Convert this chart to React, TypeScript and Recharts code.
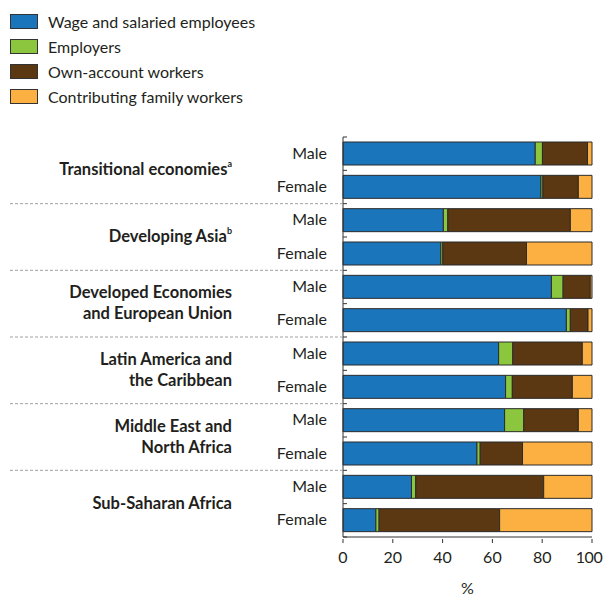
import React from 'react';
import { BarChart, Bar, XAxis, YAxis, Legend } from 'recharts';

const regions = [
  'Transitional economies',
  'Developing Asia',
  'Developed Economies and European Union',
  'Latin America and the Caribbean',
  'Middle East and North Africa',
  'Sub-Saharan Africa',
];
const regionLines: string[][] = [
  ['Transitional economies'],
  ['Developing Asia'],
  ['Developed Economies', 'and European Union'],
  ['Latin America and', 'the Caribbean'],
  ['Middle East and', 'North Africa'],
  ['Sub-Saharan Africa'],
];
const regionNotes = ['a', 'b', '', '', '', ''];
const sexes = ['Male', 'Female'];

// one value per row: region x sex, in order Male, Female
const wage = [77.2, 79.5, 40.3, 39.3, 83.7, 89.7, 62.5, 65.3, 64.9, 53.8, 27.5, 13.2];
const employers = [2.9, 0.8, 1.8, 0.8, 4.7, 1.6, 5.7, 2.7, 7.7, 1.3, 1.7, 1.3];
const ownAccount = [18.1, 14.2, 49.2, 33.6, 10.9, 7.1, 27.9, 24.1, 21.9, 17.0, 51.4, 48.4];
const family = [1.8, 5.5, 8.7, 26.3, 0.7, 1.6, 3.9, 7.9, 5.5, 27.9, 19.4, 37.1];

const xTicks = [0, 20, 40, 60, 80, 100];

const series = [
  { key: 'wage', name: 'Wage and salaried employees', color: '#1b75bb' },
  { key: 'employers', name: 'Employers', color: '#8cc63e' },
  { key: 'ownAccount', name: 'Own-account workers', color: '#5b3712' },
  { key: 'family', name: 'Contributing family workers', color: '#fbb041' },
];

const data = wage.map((w, i) => ({
  row: `${regions[Math.floor(i / 2)]}|${sexes[i % 2]}`,
  wage: w,
  employers: employers[i],
  ownAccount: ownAccount[i],
  family: family[i],
}));

const FONT = 'Lato, "Open Sans", sans-serif';
const TEXT = '#231f20';
const BAND = 400 / data.length;

const YTick = (props: any) => {
  const { x, y, index } = props;
  const g = Math.floor(index / 2);
  const isMale = index % 2 === 0;
  const lines = regionLines[g];
  const cy = y + BAND / 2;
  return (
    <g>
      <text x={x} y={y} dy={5} textAnchor="end" fontSize={16} fill={TEXT} fontFamily={FONT}>
        {sexes[index % 2]}
      </text>
      <line x1={x + 16} x2={x + 20} y1={y - BAND / 2} y2={y - BAND / 2} stroke="#333" />
      {index === data.length - 1 && (
        <line x1={x + 16} x2={x + 20} y1={y + BAND / 2} y2={y + BAND / 2} stroke="#333" />
      )}
      {isMale &&
        lines.map((ln, k) => (
          <text
            key={k}
            x={x - 95}
            y={cy + (k - (lines.length - 1) / 2) * 21}
            dy={5}
            textAnchor="end"
            fontSize={16.5}
            fontWeight={700}
            fill={TEXT}
            fontFamily={FONT}
          >
            {ln}
            {k === lines.length - 1 && regionNotes[g] && (
              <tspan fontSize={9} dy={-8}>
                {regionNotes[g]}
              </tspan>
            )}
          </text>
        ))}
      {!isMale && index !== data.length - 1 && (
        <line
          x1={x - 317}
          x2={x + 16}
          y1={y + BAND / 2}
          y2={y + BAND / 2}
          stroke="#a0a0a0"
          strokeDasharray="3 2"
        />
      )}
    </g>
  );
};

const XTick = (props: any) => {
  const { x, y, payload } = props;
  const last = payload.value === xTicks[xTicks.length - 1];
  return (
    <g>
      <line x1={x} x2={x} y1={y - 6} y2={y - 2} stroke="#333" />
      <text
        x={x}
        y={y}
        dx={last ? -3 : 0}
        dy={18}
        textAnchor="middle"
        fontSize={16}
        letterSpacing={last ? -0.5 : 0}
        fill={TEXT}
        fontFamily={FONT}
      >
        {payload.value}
      </text>
    </g>
  );
};

const renderLegend = () => (
  <div style={{ fontFamily: FONT, fontSize: 16, color: TEXT }}>
    {series.map((s) => (
      <div key={s.key} style={{ display: 'flex', alignItems: 'center', height: 25 }}>
        <span
          style={{
            display: 'inline-block',
            width: 26,
            height: 13,
            background: s.color,
            border: '1px solid #333',
            marginRight: 10,
          }}
        />
        {s.name}
      </div>
    ))}
  </div>
);

export default function App() {
  return (
    <div style={{ position: 'absolute', left: 0, top: 0, width: 603, height: 596, background: '#fff' }}>
      <BarChart
        width={603}
        height={596}
        data={data}
        layout="vertical"
        margin={{ top: 137, right: 11, bottom: 29, left: 0 }}
        barSize={23}
      >
        <Legend
          layout="horizontal"
          verticalAlign="middle"
          align="center"
          wrapperStyle={{ top: 9, left: 10, width: 300, height: 100 }}
          content={renderLegend}
        />
        <XAxis
          type="number"
          domain={[0, 100]}
          ticks={xTicks}
          height={30}
          tickLine={false}
          axisLine={{ stroke: '#333' }}
          tick={<XTick />}
          interval={0}
          label={{ value: '%', position: 'insideBottom', offset: -27, fontSize: 16, fill: TEXT, fontFamily: FONT }}
        />
        <YAxis
          type="category"
          dataKey="row"
          width={343}
          tickLine={false}
          tickSize={0}
          tickMargin={16}
          axisLine={{ stroke: '#333' }}
          tick={<YTick />}
          interval={0}
        />
        {series.map((s) => (
          <Bar
            key={s.key}
            dataKey={s.key}
            name={s.name}
            stackId="a"
            fill={s.color}
            stroke="#2b2b2b"
            strokeWidth={1}
            isAnimationActive={false}
          />
        ))}
      </BarChart>
    </div>
  );
}
